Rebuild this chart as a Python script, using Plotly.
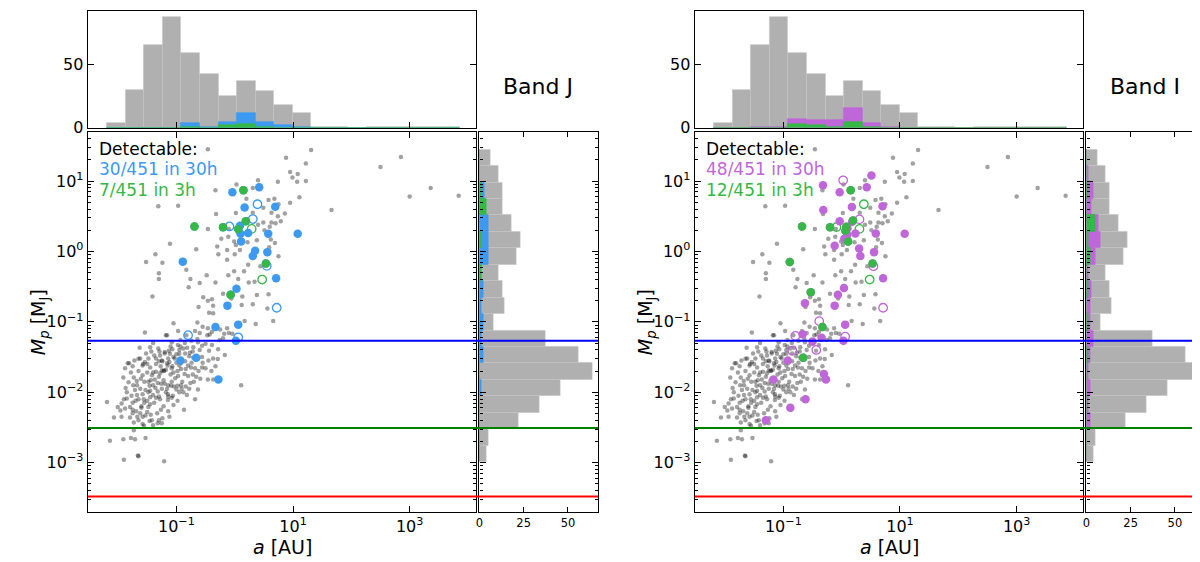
import numpy as np
import plotly.graph_objects as go

W, H = 1200, 562

# ---------------- data (log10 a [AU], log10 Mp [MJ]) ----------------
grey_points = [
    (-0.46, 1.45), (1.31, 1.44), (0.88, 1.33), (1.22, 1.25), (0.95, 1.13), (1.08, 1.10), (0.99, 1.05),
    (0.74, 0.99), (0.03, 0.95), (0.40, 1.01), (0.31, 0.90), (1.07, 0.99), (-0.33, 0.87), (0.58, 0.73),
    (0.68, 0.75), (0.20, 0.75), (1.11, 0.77), (0.95, 0.69), (-1.31, 0.64), (-0.97, 0.65), (0.49, 0.62),
    (0.75, 0.67), (0.86, 0.54), (0.63, 0.55), (0.31, 0.55), (-0.32, 0.53), (0.74, 0.50), (0.79, 0.43),
    (0.63, 0.41), (0.70, 0.40), (0.49, 0.41), (0.40, 0.38), (0.02, 0.545), (0.60, 0.35), (-0.46, 0.32),
    (0.51, 0.30), (-0.10, 0.32), (0.05, 0.28), (-0.11, 0.21), (0.62, 0.17), (0.38, 0.16), (-0.01, 0.14),
    (-0.23, 0.18), (0.02, 0.09), (-0.30, 0.07), (-0.66, 0.03), (-1.11, 0.11), (0.22, 0.13), (0.69, 0.12),
    (0.59, 0.06), (-0.13, 0.02), (0.09, 0.02), (-1.36, -0.04), (-1.52, -0.15), (-1.24, -0.16), (-0.28, -0.04),
    (0.00, -0.04), (-0.13, -0.12), (-0.83, -0.26), (0.23, -0.19), (0.44, -0.21), (0.75, -0.07), (-1.30, -0.31),
    (-1.30, -0.39), (-0.01, -0.28), (0.16, -0.28), (-0.76, -0.39), (-0.60, -0.45), (-0.48, -0.34), (-0.11, -0.34),
    (0.06, -0.39), (0.34, -0.43), (0.24, -0.44), (-0.79, -0.51), (-1.41, -0.64), (-0.54, -0.65), (-0.39, -0.68),
    (-0.06, -0.67), (0.13, -0.64), (0.31, -0.75), (-0.62, -0.79), (-0.46, -0.70), (0.12, -0.76), (-0.37, -0.88),
    (0.38, -0.62), (0.58, -0.61), (-1.05, -1.02), (-0.64, -1.01), (-0.55, -1.07), (-0.46, -1.09), (-0.25, -1.11),
    (-0.13, -1.09), (0.17, -0.99), (0.36, -1.03), (0.66, -0.99), (-1.54, -1.15), (-1.18, -1.19), (-1.16, -1.19),
    (-0.97, -1.13), (-0.83, -1.19), (-0.43, -1.18), (-0.18, -1.17), (-0.04, -1.17), (-0.60, -1.16),
    (1.22, 1.00), (1.66, 0.59), (2.50, 1.20), (2.85, 1.34), (3.00, 0.78), (3.36, 0.90), (3.84, 0.79),
    (-0.68, -1.13), (-0.39, -1.14), (-0.10, -1.16), (-0.47, -1.19), (-0.20, -1.235), (-0.26, -1.26),
    (0.56, -0.81), (-0.44, -0.87), (-0.37, -0.77), (-0.20, -0.60), (-0.33, -0.44),
    (-1.08, -1.29), (-0.93, -1.26), (-0.855, -1.30), (-0.74, -1.27), (-0.64, -1.245), (-0.63, -1.29), (-1.40, -1.30),
    (-0.50, -1.31), (-0.56, -1.34), (-0.39, -1.33), (-0.44, -1.41), (-0.285, -1.39), (-0.93, -1.35), (-0.975, -1.33),
    (-1.31, -1.38), (-1.45, -1.36), (-1.63, -1.37), (-1.43, -1.42), (-1.29, -1.42), (-1.20, -1.43), (-1.11, -1.455),
    (-1.00, -1.46), (-1.07, -1.39), (-0.815, -1.37), (-0.88, -1.38), (-0.71, -1.36), (-1.03, -1.52), (-1.14, -1.52),
    (-0.95, -1.455), (-0.77, -1.44), (-1.65, -1.525), (-1.48, -1.52), (-1.38, -1.48), (-1.30, -1.56), (-1.24, -1.56),
    (-1.16, -1.59), (-1.07, -1.63), (-1.00, -1.58), (-0.85, -1.56), (-0.78, -1.49), (-0.71, -1.51), (-0.63, -1.52),
    (-0.56, -1.50), (-0.37, -1.52), (-0.29, -1.53), (-0.17, -1.47), (-0.56, -1.65), (-0.50, -1.66), (-0.33, -1.63),
    (-1.835, -1.59), (-1.81, -1.59), (-1.54, -1.57), (-1.57, -1.60), (-1.58, -1.62), (-1.35, -1.71), (-1.25, -1.69),
    (-1.22, -1.69), (-1.08, -1.66), (-0.92, -1.67), (-0.84, -1.67), (-0.75, -1.65), (-0.68, -1.66), (-1.88, -1.66),
    (-1.75, -1.63), (-1.50, -1.72), (-1.40, -1.72), (-1.28, -1.73), (-1.21, -1.70), (-1.05, -1.72), (-0.97, -1.77),
    (-0.80, -1.77), (-0.72, -1.75), (-0.59, -1.81), (-0.46, -1.82), (-0.37, -1.82), (0.11, -1.90), (-1.91, -1.79),
    (-1.73, -1.79), (-1.61, -1.81), (-1.675, -1.90), (-1.48, -1.85), (-1.44, -1.83), (-1.37, -1.82), (-1.32, -1.87),
    (-1.26, -1.88), (-1.20, -1.88), (-1.14, -1.90), (-1.09, -1.91), (-1.04, -1.92), (-0.98, -1.91), (-0.91, -1.95),
    (-0.84, -1.92), (-0.76, -1.87), (-1.74, -1.90), (-1.46, -1.91), (-1.87, -1.94), (-1.71, -1.97), (-1.53, -1.97),
    (-1.32, -1.99), (-1.145, -2.03), (-1.06, -2.05), (-0.95, -2.00), (-1.40, -2.04), (-1.30, -2.06), (-1.45, -2.07),
    (-1.58, -2.03), (-1.675, -2.04), (-1.77, -2.05), (-1.85, -2.09), (-1.65, -2.10), (-1.14, -2.06), (-0.82, -2.04),
    (-0.63, -1.96), (-0.68, -2.10), (-1.145, -2.11), (-2.19, -2.14), (-2.005, -2.21), (-1.94, -2.16), (-1.75, -2.15),
    (-1.795, -2.21), (-1.55, -2.15), (-1.45, -2.17), (-0.87, -2.25), (-1.88, -2.23), (-1.75, -2.25), (-1.69, -2.27),
    (-1.60, -2.22), (-1.48, -2.21), (-1.265, -2.25), (-1.14, -2.27), (-1.24, -2.37), (-1.53, -2.33), (-1.58, -2.35),
    (-1.67, -2.35), (-1.795, -2.36), (-1.94, -2.35), (-2.07, -2.36), (-1.73, -2.43), (-1.58, -2.45), (-1.555, -2.475),
    (-1.46, -2.41), (-1.32, -2.44), (-1.40, -2.47), (-1.25, -2.44), (-1.12, -2.35), (-2.14, -2.69), (-1.91, -2.67),
    (-1.71, -2.67), (-1.78, -2.65), (-1.53, -2.65), (-1.90, -2.96), (-1.66, -2.90), (-1.65, -2.91), (-1.21, -2.98),
    (-1.73, -2.54),
    (-1.20, -1.45), (-1.15, -1.62), (-1.10, -1.75), (-1.02, -1.80), (-0.95, -1.62), (-0.90, -1.85), (-1.30, -1.78),
    (-1.35, -1.60), (-1.25, -1.95), (-1.18, -2.00), (-1.40, -1.90), (-1.48, -2.00), (-1.55, -1.85), (-1.62, -1.95),
    (-1.70, -2.12), (-1.60, -2.20), (-1.50, -2.28), (-1.38, -2.15), (-1.28, -2.10), (-1.05, -2.18), (-0.98, -2.12),
    (-0.88, -2.00), (-0.78, -1.95), (-0.70, -1.85), (-0.62, -1.70), (-0.55, -1.58), (-0.45, -1.55), (-0.40, -1.70),
    (-1.65, -1.70), (-1.72, -1.55), (-1.45, -1.65), (-1.52, -1.45), (-1.10, -1.35), (-0.85, -1.45), (-0.95, -1.40),
    (-1.33, -2.30), (-1.42, -2.40), (-1.65, -2.40), (-1.85, -2.00), (-1.25, -1.55),
    (-1.35, -1.52), (-1.27, -1.63), (-1.18, -1.68), (-1.12, -1.57), (-1.05, -1.50), (-0.98, -1.70), (-0.92, -1.58),
    (-0.86, -1.74), (-0.80, -1.62), (-0.74, -1.58), (-0.66, -1.78), (-1.42, -1.76), (-1.50, -1.60), (-1.58, -1.76),
    (-1.62, -1.52), (-1.68, -1.84), (-1.78, -1.72), (-1.82, -1.86), (-1.45, -1.98), (-1.36, -1.94), (-1.22, -1.83),
    (-1.16, -1.95), (-1.08, -1.85), (-1.00, -1.96), (-0.92, -1.90), (-1.56, -2.10), (-1.50, -2.12), (-1.35, -2.08),
    (-1.22, -2.20), (-1.08, -2.08), (-1.75, -2.30), (-1.62, -2.30), (-1.44, -2.32), (-1.30, -2.40), (-1.90, -2.10),
    (-1.96, -2.26), (-1.28, -1.48), (-1.13, -1.41), (-0.72, -1.42), (-0.60, -1.40),
]

# Band J
J_30h = [
    (-0.04, 0.84), (0.42, 0.91), (0.17, 0.625), (0.695, 0.635), (0.09, 0.365), (0.10, 0.25), (0.23, 0.26),
    (0.575, 0.25), (1.08, 0.25), (0.11, 0.14), (0.35, 0.01), (0.31, -0.065), (0.56, -0.01), (-0.89, -0.145),
    (0.71, -0.38), (0.03, -0.53), (-0.125, -0.77), (-0.33, -1.075), (0.06, -1.04), (0.02, -1.27), (-0.93, -1.55),
    (-0.66, -1.51), (-0.28, -1.82),
    (0.15, 0.87), (-0.69, 0.355), (-0.20, 0.345), (0.06, 0.32), (0.19, 0.43), (0.535, -0.17), (-0.07, -0.615),
]
J_3h = [(0.15, 0.87), (-0.69, 0.355), (-0.20, 0.345), (0.06, 0.32), (0.19, 0.43), (0.535, -0.17), (-0.07, -0.615)]
J_open_30h = [(0.39, 0.67), (0.31, 0.46), (-0.09, 0.355), (0.55, -0.205), (0.72, -0.80), (-0.80, -1.19), (0.06, -1.22)]
J_open_3h = [(0.29, 0.32), (0.47, -0.40)]

# Band I
I_3h = [
    (0.155, 0.87), (0.195, 0.44), (-0.68, 0.355), (-0.20, 0.345), (0.08, 0.35), (0.065, 0.295), (0.11, 0.14),
    (-0.89, -0.15), (0.53, -0.17), (-0.53, -0.58), (-0.33, -1.075), (-0.66, -1.51),
]
I_30h = [
    (0.51, 1.08), (-0.32, 0.94), (0.43, 0.91), (-0.035, 0.84), (0.175, 0.63), (-0.315, 0.59), (0.70, 0.64),
    (-0.035, 0.43), (0.235, 0.255), (0.095, 0.235), (0.045, 0.18), (0.585, 0.255), (1.08, 0.25), (-0.12, 0.08),
    (0.30, 0.04), (0.555, -0.01), (0.32, -0.065), (0.71, -0.38), (0.04, -0.52), (-0.065, -0.615), (-0.63, -0.735),
    (-0.12, -0.77), (0.06, -1.04), (-0.67, -1.175), (-0.345, -1.225), (-0.50, -1.28), (0.03, -1.27), (-0.925, -1.55),
    (-0.305, -1.74), (-0.27, -1.82), (-1.17, -1.82), (-0.62, -2.10), (-0.88, -2.22), (-1.30, -2.40),
    (0.10, 0.33), (0.18, 0.42),
] + I_3h
I_open_30h = [(0.025, 1.01), (0.305, 0.455), (0.545, -0.21), (0.71, -0.80), (-0.385, -0.99), (-0.795, -1.20),
              (0.06, -1.21), (-0.845, -1.41), (-0.435, -1.40)]
I_open_3h = [(0.38, 0.67), (-0.09, 0.345), (0.305, 0.32), (0.48, -0.40)]

# histograms of log10 a (19 bins)
a_edges_log = [-2.19, -1.872, -1.554, -1.236, -0.918, -0.600, -0.282, 0.036, 0.354, 0.672,
               0.989, 1.307, 1.625, 1.943, 2.261, 2.579, 2.897, 3.214, 3.532, 3.85]
a_hist_all = [4, 30, 65, 87, 59, 42, 25, 37, 29, 18, 12, 1, 1, 0, 1, 1, 1, 1, 1]
a_hist_J30 = [0, 0, 0, 0, 4, 1, 5, 12, 5, 2, 1, 0, 0, 0, 0, 0, 0, 0, 0]
a_hist_J3 = [0, 0, 0, 0, 1, 0, 2, 3, 1, 0, 0, 0, 0, 0, 0, 0, 0, 0, 0]
a_hist_I30 = [0, 0, 1, 1, 7, 6, 6, 16, 4, 1, 0, 0, 0, 0, 0, 0, 0, 0, 0]
a_hist_I3 = [0, 0, 0, 0, 3, 2, 1, 5, 1, 0, 0, 0, 0, 0, 0, 0, 0, 0, 0]

# histograms of log10 Mp (19 bins, lowest bin first)
m_edges_log = [-2.99, -2.756, -2.523, -2.289, -2.055, -1.822, -1.588, -1.354, -1.121, -0.887,
               -0.653, -0.420, -0.186, 0.048, 0.281, 0.515, 0.749, 0.982, 1.216, 1.45]
m_hist_all = [4, 5, 22, 34, 46, 64, 56, 37, 8, 14, 13, 11, 21, 23, 18, 13, 13, 11, 6]
m_hist_J30 = [0, 0, 0, 0, 1, 0, 2, 1, 2, 1, 2, 1, 5, 5, 5, 2, 3, 0, 0]
m_hist_J3 = [0, 0, 0, 0, 0, 0, 0, 0, 0, 0, 0, 1, 0, 1, 0, 4, 1, 0, 0]
m_hist_I30 = [0, 0, 2, 1, 2, 1, 2, 4, 2, 2, 3, 1, 5, 8, 7, 3, 4, 1, 0]
m_hist_I3 = [0, 0, 0, 0, 0, 0, 1, 0, 1, 0, 1, 0, 2, 1, 5, 0, 1, 0, 0]

mass_limits = [0.054, 0.0031, 0.00033]
limit_colors = ["#0000ff", "#008000", "#ff0000"]

x_range_log = [-2.52, 4.145]
y_range_log = [-3.70, 1.70]

GREY_PT = "rgba(0,0,0,0.37)"
GREY_BAR = "#b0b0b0"
BLUE = "#3d9af0"
GREEN = "#36b846"
PURPLE = "#bf66d9"

panels = [
    dict(dx=0, ax=("", "2", "3"), band="Band J", c30=BLUE, n30="30/451 in 30h", n3="7/451 in 3h",
         p30=J_30h, p3=J_3h, o30=J_open_30h, o3=J_open_3h,
         ah30=a_hist_J30, ah3=a_hist_J3, mh30=m_hist_J30, mh3=m_hist_J3),
    dict(dx=609, ax=("4", "5", "6"), band="Band I", c30=PURPLE, n30="48/451 in 30h", n3="12/451 in 3h",
         p30=I_30h, p3=I_3h, o30=I_open_30h, o3=I_open_3h,
         ah30=a_hist_I30, ah3=a_hist_I3, mh30=m_hist_I30, mh3=m_hist_I3),
]

fig = go.Figure()
FONT = "DejaVu Sans"


def px_x(p):
    return p / W


def px_y(p):
    return 1 - p / H


a_centers = [(a_edges_log[i] + a_edges_log[i + 1]) / 2 for i in range(len(a_edges_log) - 1)]
a_width = a_edges_log[1] - a_edges_log[0]
m_centers = [(m_edges_log[i] + m_edges_log[i + 1]) / 2 for i in range(len(m_edges_log) - 1)]
m_width = m_edges_log[1] - m_edges_log[0]

major_y = [1e-3, 1e-2, 1e-1, 1, 10]
minor_y = [k * 10.0 ** n for n in range(-4, 2) for k in range(2, 10)
           if y_range_log[0] < np.log10(k * 10.0 ** n) < y_range_log[1]]
minor_y_log = [float(np.log10(v)) for v in minor_y]


def tt(e):
    return "10<sup>" + str(e).replace("-", "\u2212") + "</sup>"


annotations = []
shapes = []
layout = {}

for P in panels:
    dx = P["dx"]
    sm, st, sr = P["ax"]
    xm, ym = "x" + sm, "y" + sm
    xt, yt = "x" + st, "y" + st
    xr, yr = "x" + sr, "y" + sr

    main_dom_x = [px_x(76 + dx), px_x(466 + dx)]
    rh_dom_x = [px_x(469 + dx), px_x(588 + dx)]
    main_dom_y = [px_y(513), px_y(126)]
    top_dom_y = [px_y(122), px_y(3)]

    def sc(pts, color, size, symbol="circle", lw=0):
        la = [p[0] for p in pts]
        lm = [p[1] for p in pts]
        fig.add_trace(go.Scatter(
            x=[10 ** v for v in la], y=[10 ** v for v in lm], mode="markers",
            xaxis=xm, yaxis=ym, hoverinfo="skip",
            marker=dict(color=color, size=size, symbol=symbol, line=dict(width=lw, color=color))))

    sc(grey_points, GREY_PT, 4.5)
    sc(P["o30"], P["c30"], 8.5, "circle-open", 1.3)
    sc(P["o3"], GREEN, 8.5, "circle-open", 1.3)
    sc(P["p30"], P["c30"], 8.5)
    sc(P["p3"], GREEN, 8.5)

    for counts, col, lc in [(a_hist_all, GREY_BAR, "#c4c4c4"), (P["ah30"], P["c30"], P["c30"]),
                            (P["ah3"], GREEN, GREEN)]:
        fig.add_trace(go.Bar(x=a_centers, y=counts, width=a_width, xaxis=xt, yaxis=yt,
                             marker=dict(color=col, line=dict(color=lc, width=0.6)), hoverinfo="skip"))
    for counts, col, lc in [(m_hist_all, GREY_BAR, "#c4c4c4"), (P["mh30"], P["c30"], P["c30"]),
                            (P["mh3"], GREEN, GREEN)]:
        fig.add_trace(go.Bar(y=m_centers, x=counts, width=m_width, orientation="h", xaxis=xr, yaxis=yr,
                             marker=dict(color=col, line=dict(color=lc, width=0.6)), hoverinfo="skip"))

    common = dict(showgrid=False, zeroline=False, showline=True, linecolor="black", linewidth=1.2,
                  ticks="inside", mirror="allticks", tickcolor="black", tickwidth=1,
                  tickfont=dict(family=FONT, size=16, color="black"))

    layout["xaxis" + sm] = dict(common, domain=main_dom_x, anchor=ym, type="log", range=x_range_log,
                                tickmode="array", tickvals=[0.1, 10, 1000], ticktext=[tt(-1), tt(1), tt(3)],
                                ticklen=6)
    layout["yaxis" + sm] = dict(common, domain=main_dom_y, anchor=xm, type="log", range=y_range_log,
                                tickmode="array", tickvals=major_y, ticktext=[tt(e) for e in [-3, -2, -1, 0, 1]],
                                ticklen=6,
                                minor=dict(tickmode="array", tickvals=minor_y, ticks="inside", ticklen=3,
                                           tickcolor="black", showgrid=False))
    layout["xaxis" + st] = dict(common, domain=main_dom_x, anchor=yt, range=x_range_log, mirror=True,
                                tickmode="array", tickvals=[-1, 1, 3], ticktext=["", "", ""], ticklen=6)
    layout["yaxis" + st] = dict(common, domain=top_dom_y, anchor=xt, range=[0, 91.8],
                                tickmode="array", tickvals=[0, 50], ticklen=6)
    layout["xaxis" + sr] = dict(common, domain=rh_dom_x, anchor=yr, range=[0, 67],
                                tickmode="array", tickvals=[0, 25, 50], ticklen=5,
                                tickfont=dict(family=FONT, size=11.5, color="black"))
    layout["yaxis" + sr] = dict(common, domain=main_dom_y, anchor=xr, range=y_range_log,
                                tickmode="array", tickvals=[-3, -2, -1, 0, 1], ticktext=[""] * 5, ticklen=6,
                                minor=dict(tickmode="array", tickvals=minor_y_log, ticks="inside", ticklen=3,
                                           tickcolor="black", showgrid=False))

    for val, col in zip(mass_limits, limit_colors):
        shapes.append(dict(type="line", xref="paper", yref=yr, x0=main_dom_x[0], x1=rh_dom_x[1],
                           y0=float(np.log10(val)), y1=float(np.log10(val)),
                           line=dict(color=col, width=2), layer="above"))

    annotations += [
        dict(text="Detectable:", x=px_x(85 + dx), y=px_y(144), xref="paper", yref="paper",
             xanchor="left", yanchor="middle", showarrow=False, font=dict(family=FONT, size=17, color="black")),
        dict(text=P["n30"], x=px_x(85 + dx), y=px_y(164), xref="paper", yref="paper",
             xanchor="left", yanchor="middle", showarrow=False, font=dict(family=FONT, size=17, color=P["c30"])),
        dict(text=P["n3"], x=px_x(85 + dx), y=px_y(185), xref="paper", yref="paper",
             xanchor="left", yanchor="middle", showarrow=False, font=dict(family=FONT, size=17, color=GREEN)),
        dict(text=P["band"], x=px_x(528 + dx), y=px_y(80), xref="paper", yref="paper",
             xanchor="center", yanchor="middle", showarrow=False, font=dict(family=FONT, size=22, color="black")),
        dict(text="<i>M</i><sub><i>p</i></sub> [M<sub>J</sub>]", x=px_x(27 + dx), y=px_y(320), xref="paper",
             yref="paper", textangle=-90, xanchor="center", yanchor="middle", showarrow=False,
             font=dict(family=FONT, size=19, color="black")),
        dict(text="<i>a</i> [AU]", x=px_x(271 + dx), y=px_y(549), xref="paper", yref="paper",
             xanchor="center", yanchor="middle", showarrow=False, font=dict(family=FONT, size=19, color="black")),
    ]

fig.update_layout(
    width=W, height=H, margin=dict(l=0, r=0, t=0, b=0),
    paper_bgcolor="white", plot_bgcolor="white",
    showlegend=False, barmode="overlay", bargap=0, hovermode=False,
    annotations=annotations, shapes=shapes, **layout)

fig.write_html("out.html")
